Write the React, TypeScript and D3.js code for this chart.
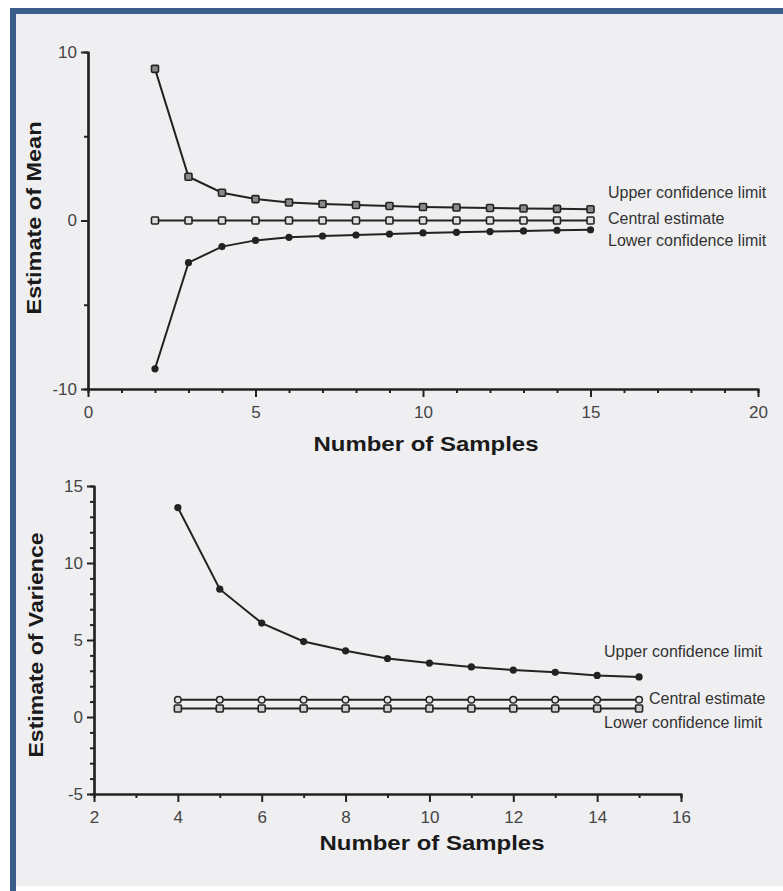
import { useRef, useEffect } from 'react';
import * as d3 from 'd3';

// Top panel: estimate of mean
const MEAN_SAMPLES = [2, 3, 4, 5, 6, 7, 8, 9, 10, 11, 12, 13, 14, 15];
const MEAN_UPPER = [9.0, 2.6, 1.65, 1.27, 1.07, 0.98, 0.92, 0.86, 0.8, 0.77, 0.74, 0.71, 0.69, 0.67];
const MEAN_CENTRAL = [0, 0, 0, 0, 0, 0, 0, 0, 0, 0, 0, 0, 0, 0];
const MEAN_LOWER = [-8.8, -2.5, -1.55, -1.18, -1.0, -0.92, -0.86, -0.8, -0.74, -0.7, -0.66, -0.62, -0.58, -0.55];

// Bottom panel: estimate of variance
const VAR_SAMPLES = [4, 5, 6, 7, 8, 9, 10, 11, 12, 13, 14, 15];
const VAR_UPPER = [13.6, 8.3, 6.1, 4.9, 4.3, 3.8, 3.5, 3.25, 3.05, 2.9, 2.7, 2.6];
const VAR_CENTRAL = [1.12, 1.12, 1.12, 1.12, 1.12, 1.12, 1.12, 1.12, 1.12, 1.12, 1.12, 1.12];
const VAR_LOWER = [0.55, 0.55, 0.55, 0.55, 0.55, 0.55, 0.55, 0.55, 0.55, 0.55, 0.55, 0.55];

const MEAN_Y_MAJOR = [-10, 0, 10];
const MEAN_Y_MINOR = [-5, 5];
const MEAN_X_MAJOR = [0, 5, 10, 15, 20];
const VAR_Y_MAJOR = [-5, 0, 5, 10, 15];
const VAR_X_MAJOR = [2, 4, 6, 8, 10, 12, 14, 16];

const LEGEND = ['Upper confidence limit', 'Central estimate', 'Lower confidence limit'];

const W = 783;
const H = 891;
const INK = '#222';
const PAPER = '#efeff1';
const LABEL_FONT = '"Liberation Sans", Arial, sans-serif';

export default function App() {
  const svgRef = useRef<SVGSVGElement>(null);

  useEffect(() => {
    const svg = d3.select(svgRef.current);
    svg.selectAll('*').remove();

    // page frame
    svg.append('rect').attr('width', W).attr('height', H).attr('fill', '#fff');
    svg.append('rect').attr('x', 10).attr('y', 8).attr('width', W - 10).attr('height', H - 8).attr('fill', '#3a5d8c');
    svg.append('rect').attr('x', 16).attr('y', 14).attr('width', W - 16).attr('height', 872).attr('fill', PAPER);
    svg.append('rect').attr('x', 16).attr('y', 886).attr('width', W - 16).attr('height', 5).attr('fill', '#fff');

    const styleAxis = (g: any) => {
      g.select('.domain').attr('stroke', INK).attr('stroke-width', 2.2);
      g.selectAll('.tick line').attr('stroke', INK).attr('stroke-width', 2);
      g.selectAll('.tick text')
        .attr('fill', '#444')
        .attr('font-family', LABEL_FONT)
        .attr('font-size', '17px');
    };

    const drawPanel = (opts: any) => {
      const { x, y, xMajor, xMinor, yMajor, yMinor, samples, series, yTitle, yTitleX, yTitleY, xTitleX, xTitleY, legend } = opts;
      const [x0] = x.range();
      const [y0] = y.range();
      const g = svg.append('g');

      // minor ticks
      g.append('g')
        .attr('transform', `translate(0,${y0})`)
        .call(d3.axisBottom(x).tickValues(xMinor).tickSize(4).tickFormat(() => ''))
        .call(styleAxis);
      g.append('g')
        .attr('transform', `translate(${x0},0)`)
        .call(d3.axisLeft(y).tickValues(yMinor).tickSize(4).tickFormat(() => ''))
        .call(styleAxis);

      // major ticks with labels
      g.append('g')
        .attr('transform', `translate(0,${y0})`)
        .call(d3.axisBottom(x).tickValues(xMajor).tickSize(8).tickSizeOuter(0).tickPadding(9).tickFormat((d: any) => String(d)))
        .call(styleAxis);
      g.append('g')
        .attr('transform', `translate(${x0},0)`)
        .call(d3.axisLeft(y).tickValues(yMajor).tickSize(7).tickSizeOuter(0).tickPadding(4).tickFormat((d: any) => String(d)))
        .call(styleAxis);

      // series
      series.forEach((s: any) => {
        const pts = samples.map((n: number, i: number) => [x(n), y(s.values[i])]);
        g.append('path')
          .attr('d', d3.line()(pts))
          .attr('fill', 'none')
          .attr('stroke', INK)
          .attr('stroke-width', 2);
        if (s.marker === 'dot') {
          g.selectAll(null).data(pts).join('circle')
            .attr('cx', (d: any) => d[0]).attr('cy', (d: any) => d[1])
            .attr('r', 3.6).attr('fill', INK);
        } else if (s.marker === 'ring') {
          g.selectAll(null).data(pts).join('circle')
            .attr('cx', (d: any) => d[0]).attr('cy', (d: any) => d[1])
            .attr('r', 3.3).attr('fill', '#e4e4e4').attr('stroke', INK).attr('stroke-width', 1.5);
        } else {
          g.selectAll(null).data(pts).join('rect')
            .attr('x', (d: any) => d[0] - 3.5).attr('y', (d: any) => d[1] - 3.5)
            .attr('width', 7).attr('height', 7).attr('rx', 1)
            .attr('fill', s.fill).attr('stroke', INK).attr('stroke-width', 1.6);
        }
      });

      // legend
      legend.forEach((l: any, i: number) => {
        g.append('text')
          .attr('x', l.x).attr('y', l.y)
          .attr('font-family', LABEL_FONT)
          .attr('font-size', '16px')
          .attr('fill', '#333')
          .text(LEGEND[i]);
      });

      // titles
      g.append('text')
        .attr('x', xTitleX).attr('y', xTitleY)
        .attr('text-anchor', 'middle')
        .attr('font-family', LABEL_FONT)
        .attr('font-weight', 'bold')
        .attr('font-size', '21px')
        .attr('textLength', 225).attr('lengthAdjust', 'spacingAndGlyphs')
        .attr('fill', '#1a1a1a')
        .text('Number of Samples');
      g.append('text')
        .attr('transform', `translate(${yTitleX},${yTitleY}) rotate(-90)`)
        .attr('text-anchor', 'middle')
        .attr('font-family', LABEL_FONT)
        .attr('font-weight', 'bold')
        .attr('font-size', '21px')
        .attr('textLength', yTitle.len).attr('lengthAdjust', 'spacingAndGlyphs')
        .attr('fill', '#1a1a1a')
        .text(yTitle.text);
    };

    const xMean = d3.scaleLinear().domain([0, 20]).range([88, 758]);
    const yMean = d3.scaleLinear().domain([-10, 10]).range([389, 52]);
    drawPanel({
      x: xMean,
      y: yMean,
      xMajor: MEAN_X_MAJOR,
      xMinor: d3.range(1, 20).filter((v) => v % 5 !== 0),
      yMajor: MEAN_Y_MAJOR,
      yMinor: MEAN_Y_MINOR,
      samples: MEAN_SAMPLES,
      series: [
        { values: MEAN_UPPER, marker: 'square', fill: '#8a8a8a' },
        { values: MEAN_CENTRAL, marker: 'square', fill: '#dedede' },
        { values: MEAN_LOWER, marker: 'dot' },
      ],
      yTitle: { text: 'Estimate of Mean', len: 193 },
      yTitleX: 41,
      yTitleY: 218,
      xTitleX: 426,
      xTitleY: 451,
      legend: [{ x: 608, y: 198 }, { x: 608, y: 224 }, { x: 608, y: 246 }],
    });

    const xVar = d3.scaleLinear().domain([2, 16]).range([94, 681]);
    const yVar = d3.scaleLinear().domain([-5, 15]).range([794, 486]);
    drawPanel({
      x: xVar,
      y: yVar,
      xMajor: VAR_X_MAJOR,
      xMinor: [3, 5, 7, 9, 11, 13, 15],
      yMajor: VAR_Y_MAJOR,
      yMinor: d3.range(-4, 15).filter((v) => v % 5 !== 0),
      samples: VAR_SAMPLES,
      series: [
        { values: VAR_UPPER, marker: 'dot' },
        { values: VAR_CENTRAL, marker: 'ring' },
        { values: VAR_LOWER, marker: 'square', fill: '#cfcfcf' },
      ],
      yTitle: { text: 'Estimate of Varience', len: 225 },
      yTitleX: 43,
      yTitleY: 645,
      xTitleX: 432,
      xTitleY: 850,
      legend: [{ x: 604, y: 657 }, { x: 649, y: 704 }, { x: 604, y: 728 }],
    });
  }, []);

  return (
    <div style={{ position: 'absolute', left: 0, top: 0, width: W, height: H }}>
      <svg ref={svgRef} width={W} height={H} style={{ display: 'block' }} />
    </div>
  );
}
